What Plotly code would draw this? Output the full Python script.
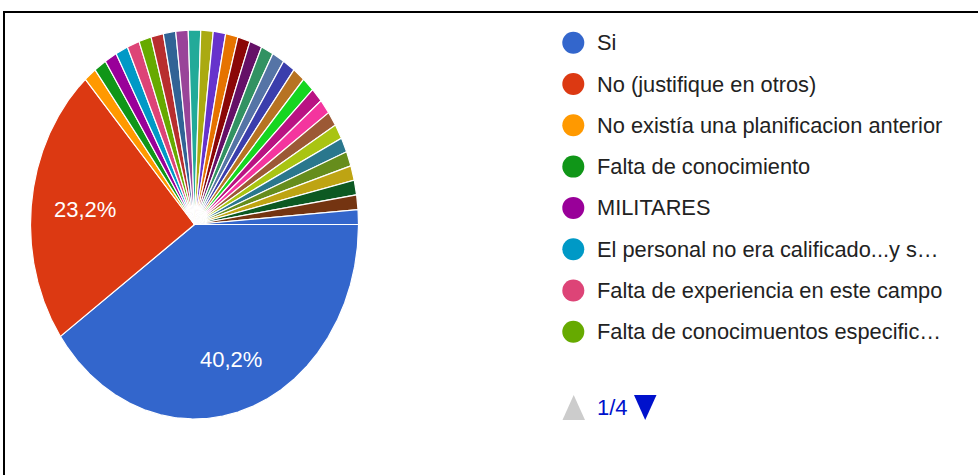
import numpy as np
import plotly.graph_objects as go

# ---------------- data ----------------
categories = [
    "Si",
    "No (justifique en otros)",
    "No existía una planificacion anterior",
    "Falta de conocimiento",
    "MILITARES",
    "El personal no era calificado...y s…",
    "Falta de experiencia en este campo",
    "Falta de conocimuentos especific…",
    "Otra respuesta 9", "Otra respuesta 10", "Otra respuesta 11", "Otra respuesta 12",
    "Otra respuesta 13", "Otra respuesta 14", "Otra respuesta 15", "Otra respuesta 16",
    "Otra respuesta 17", "Otra respuesta 18", "Otra respuesta 19", "Otra respuesta 20",
    "Otra respuesta 21", "Otra respuesta 22", "Otra respuesta 23", "Otra respuesta 24",
    "Otra respuesta 25", "Otra respuesta 26", "Otra respuesta 27", "Otra respuesta 28",
    "Otra respuesta 29", "Otra respuesta 30", "Otra respuesta 31", "Otra respuesta 32",
]
counts = [33, 19,
          1, 1, 1, 1, 1, 1, 1, 1, 1, 1,
          1, 1, 1, 1, 1, 1, 1, 1, 1, 1,
          1, 1, 1, 1, 1, 1, 1, 1, 1, 1]
page_label = "1/4"

# ---------------- style ----------------
palette = ["#3366cc", "#dc3912", "#ff9900", "#109618", "#990099", "#0099c6", "#dd4477",
           "#66aa00", "#b82e2e", "#316395", "#994499", "#22aa99", "#aaaa11", "#6633cc",
           "#e67300", "#8b0707", "#651067", "#329262", "#5574a6", "#3b3eac", "#b77322",
           "#16d620", "#b91383", "#f4359e", "#9c5935", "#a9c413", "#2a778d", "#668d1c",
           "#bea413", "#0c5922", "#743411"]
colors = [palette[i % len(palette)] for i in range(len(categories))]

FONT = "Liberation Sans, Arial, sans-serif"
W, H = 978, 475
CX, CY, RX, RY = 194.5, 224.5, 164.0, 194.5   # pie centre / radii in pixel units
START_DEG = 0.0                                # first slice starts at 3 o'clock, clockwise
LABEL_MIN_PCT = 5.0
LABEL_R = {0: 0.73, 1: 0.67}
LEG_X, LEG_Y0, LEG_DY, LEG_TEXT_X = 573.3, 42.7, 41.3, 595
LEG_PAGE = 8

fig = go.Figure()

total = float(sum(counts))
cum = 0.0
annotations = []
for i, (name, v) in enumerate(zip(categories, counts)):
    a0 = START_DEG - cum / total * 360.0
    a1 = a0 - v / total * 360.0
    cum += v
    n = max(3, int(abs(a1 - a0) / 0.4) + 2)
    ang = np.radians(np.linspace(a0, a1, n))
    xs = np.concatenate([[CX], CX + RX * np.cos(ang), [CX]])
    ys = np.concatenate([[CY], CY - RY * np.sin(ang), [CY]])
    pct = v / total * 100.0
    fig.add_trace(go.Scatter(
        x=xs, y=ys, mode="lines", fill="toself", fillcolor=colors[i],
        line=dict(color="white", width=1.2), name=name, showlegend=False,
        hoveron="fills", hoverinfo="text",
        text=f"{name}: {v} ({pct:.1f}%)".replace(".", ","),
    ))
    if pct >= LABEL_MIN_PCT:
        mid = np.radians((a0 + a1) / 2.0)
        r = LABEL_R.get(i, 0.7)
        annotations.append(dict(
            x=CX + r * RX * np.cos(mid), y=CY - r * RY * np.sin(mid),
            xref="x", yref="y", text=f"{pct:.1f}%".replace(".", ","),
            showarrow=False, font=dict(family=FONT, size=22, color="white"),
            xanchor="center", yanchor="middle",
        ))

# legend (first page)
leg_names = categories[:LEG_PAGE]
leg_y = [LEG_Y0 + k * LEG_DY for k in range(len(leg_names))]
fig.add_trace(go.Scatter(
    x=[LEG_X] * len(leg_names), y=leg_y, mode="markers",
    marker=dict(size=22, color=colors[:LEG_PAGE], line=dict(width=0)),
    hoverinfo="skip", showlegend=False,
))
for name, y in zip(leg_names, leg_y):
    annotations.append(dict(
        x=LEG_TEXT_X, y=y, xref="x", yref="y", text=name, showarrow=False,
        font=dict(family=FONT, size=21.8, color="#222222"),
        xanchor="left", yanchor="middle",
    ))

# pagination
annotations.append(dict(
    x=595, y=407.5, xref="x", yref="y", text=page_label, showarrow=False,
    font=dict(family=FONT, size=22, color="#0011cc"), xanchor="left", yanchor="middle",
))
shapes = [
    dict(type="path", xref="x", yref="y", path="M 562.5 420 L 585 420 L 573.7 395 Z",
         fillcolor="#cccccc", line=dict(width=0)),
    dict(type="path", xref="x", yref="y", path="M 634 395 L 656.5 395 L 645.2 420 Z",
         fillcolor="#0011cc", line=dict(width=0)),
    dict(type="rect", xref="x", yref="y", x0=4, y0=12, x1=990, y1=490,
         line=dict(color="black", width=2), fillcolor="rgba(0,0,0,0)", layer="above"),
]

fig.update_layout(
    width=W, height=H, margin=dict(l=0, r=0, t=0, b=0),
    paper_bgcolor="white", plot_bgcolor="white",
    xaxis=dict(range=[0, W], visible=False, fixedrange=True),
    yaxis=dict(range=[H, 0], visible=False, fixedrange=True),
    annotations=annotations, shapes=shapes, hovermode="closest",
)

fig.write_html(
    "out.html",
    config={"displayModeBar": False},
    post_script="document.body.style.margin='0';document.body.style.padding='0';"
                "document.body.style.overflow='hidden';",
)
